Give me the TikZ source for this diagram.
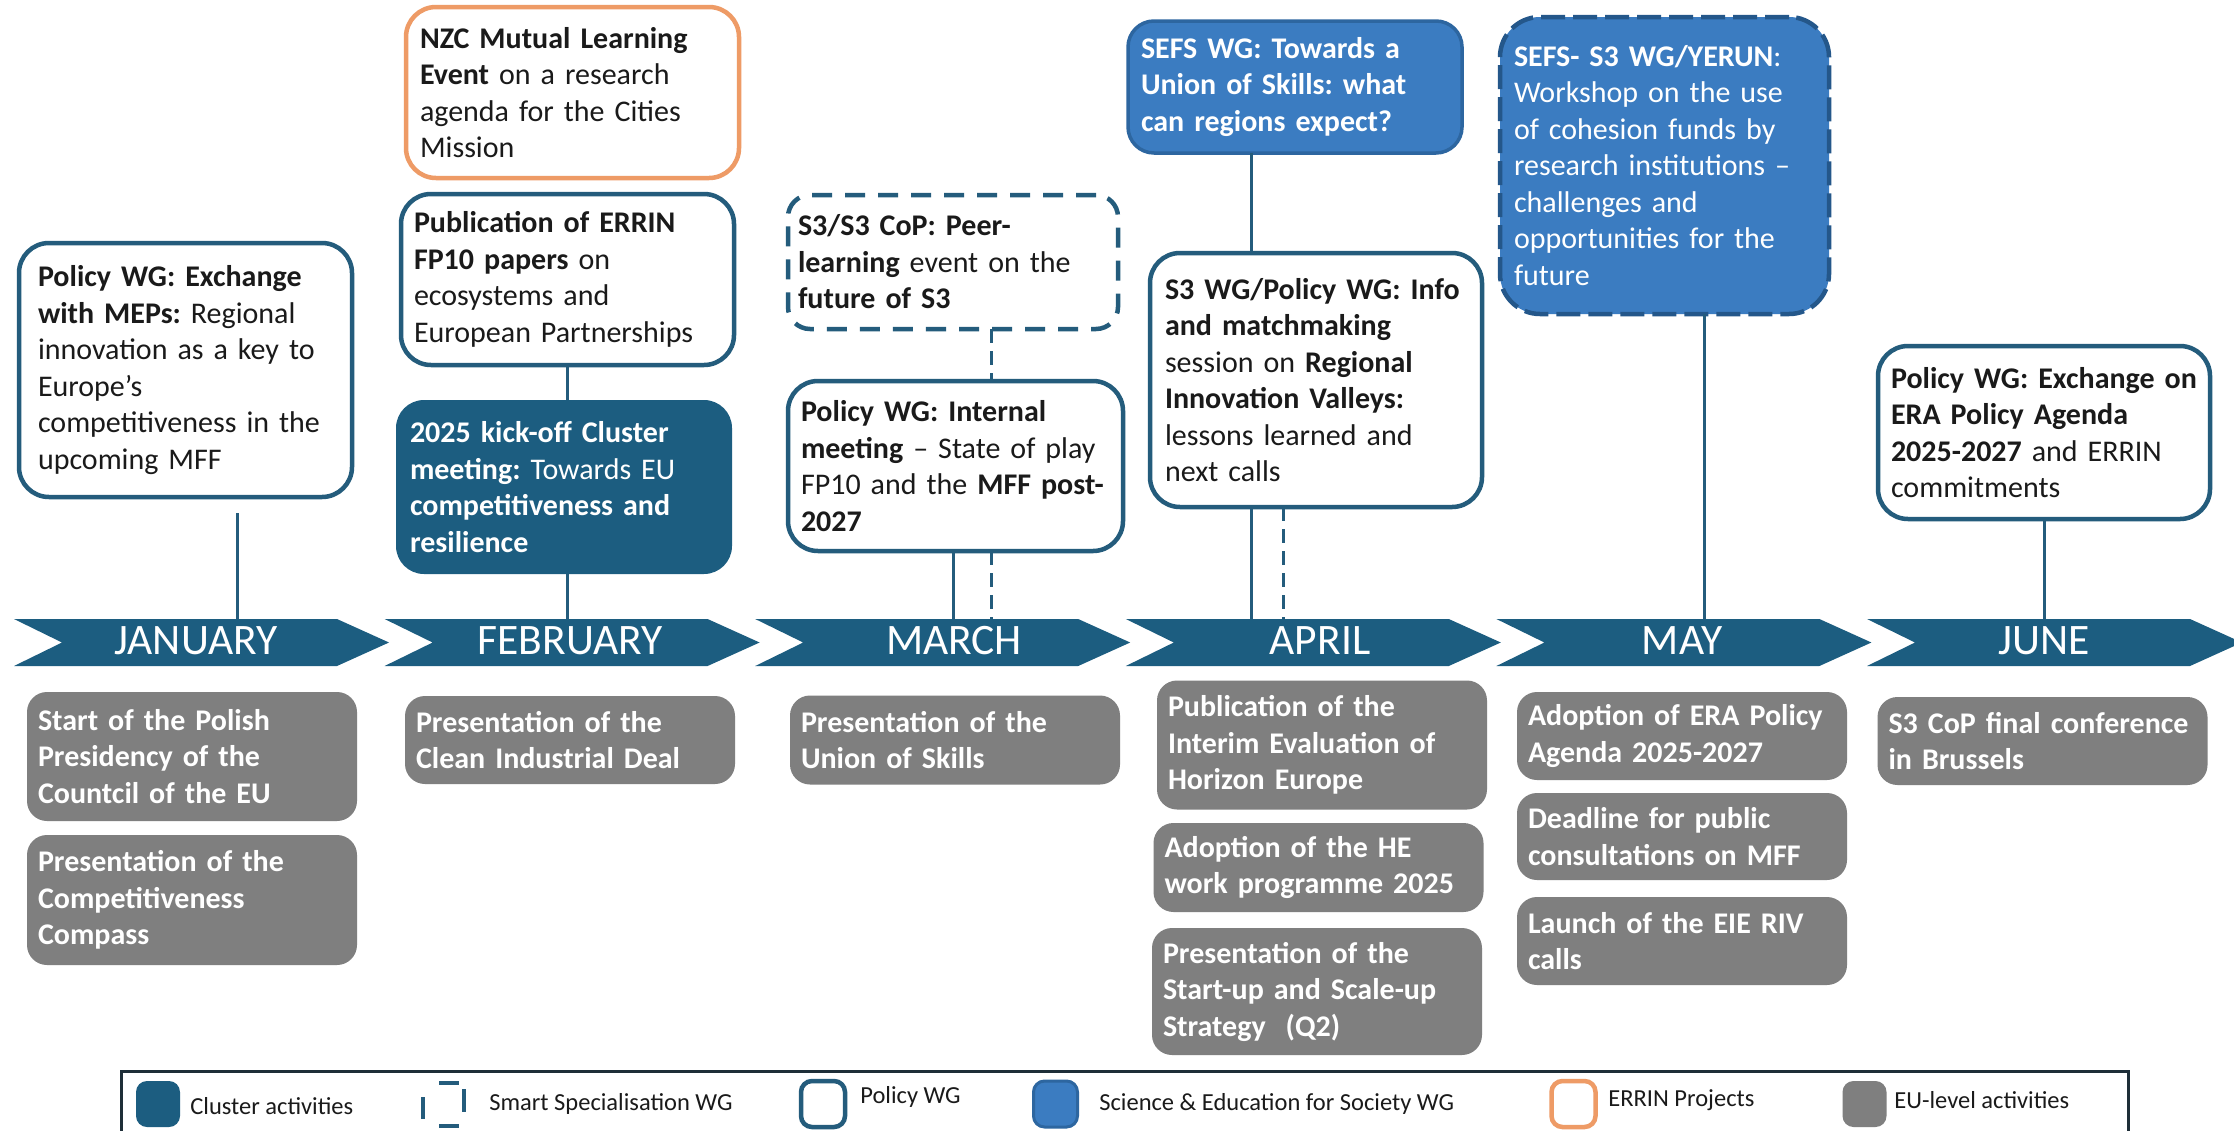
\documentclass[tikz,border=0pt]{standalone}
\usepackage{fontspec}
\setmainfont{Carlito}
\usetikzlibrary{calc}
\frenchspacing
\definecolor{dblue}{HTML}{1C5D80}
\definecolor{pborder}{HTML}{245C7C}
\definecolor{mblue}{HTML}{3B7CC1}
\definecolor{mborder}{HTML}{2D66A0}
\definecolor{ydash}{HTML}{24578A}
\definecolor{orng}{HTML}{EE9B66}
\definecolor{egrey}{HTML}{7F7F7F}
\definecolor{txt}{HTML}{1A1A1A}
\definecolor{legb}{HTML}{1E2E38}
\begin{document}
\begin{tikzpicture}[x=1pt,y=-1pt,
  every node/.style={inner ysep=0pt, outer sep=0pt},
  bodytext/.style={align=left, font=\fontsize{30}{36.5}\selectfont\frenchspacing},
  polbox/.style={bodytext, draw=pborder, fill=white, line width=4.5pt, rounded corners=30pt, text=txt},
  orbox/.style={bodytext, draw=orng, fill=white, line width=4.5pt, rounded corners=30pt, text=txt},
  s3box/.style={bodytext, draw=pborder, fill=white, line width=4.5pt, rounded corners=22pt, text=txt, dash pattern=on 20pt off 13pt},
  clbox/.style={bodytext, fill=dblue, rounded corners=28pt, text=white},
  sefsbox/.style={bodytext, draw=mborder, fill=mblue, line width=3.5pt, rounded corners=26pt, text=white},
  yerbox/.style={bodytext, draw=ydash, fill=mblue, line width=4.5pt, rounded corners=40pt, text=white, dash pattern=on 24pt off 8pt},
  eubox/.style={bodytext, fill=egrey, rounded corners=20pt, text=white, font=\fontsize{30}{36.5}\selectfont\bfseries\frenchspacing, inner xsep=11pt, text width=308pt},
  month/.style={text=white, font=\fontsize{43.5}{50}\selectfont},
  conn/.style={draw=pborder, line width=3pt},
  dconn/.style={draw=pborder, line width=3pt, dash pattern=on 14pt off 8pt},
  legtext/.style={anchor=west, text=txt, font=\fontsize{24.5}{28}\selectfont},
  legicon/.style={minimum width=44pt, minimum height=46pt, rounded corners=11pt}
]
\useasboundingbox (0,0) rectangle (2234,1130);
\clip (0,0) rectangle (2234,1130);
\fill[white] (0,0) rectangle (2234,1130);

% banner chevrons
\foreach \L in {14,384.6,755.2,1125.8,1496.4,1867}
  \fill[dblue] (\L,619) -- ++(323,0) -- ++(52,23.5) -- ++(-52,23.5) -- ++(-323,0) -- ++(48,-23.5) -- cycle;
\node[month] (mjan) at (196,641) {JANUARY};
\node[month] (mfeb) at (570,641) {FEBRUARY};
\node[month] (mmar) at (954,641) {MARCH};
\node[month] (mapr) at (1320,641) {APRIL};
\node[month] (mmay) at (1682,641) {MAY};
\node[month] (mjun) at (2044,641) {JUNE};

% connector end points on the banner
\coordinate (c1) at (237,619);
\coordinate (c2) at (567,619);
\coordinate (c3) at (953,619);
\coordinate (c4) at (991,619);
\coordinate (c5) at (1251,619);
\coordinate (c6) at (1283,619);
\coordinate (c7) at (1704,619);
\coordinate (c8) at (2044,619);

% top boxes
\node[polbox, minimum height=254pt, text width=295pt, inner xsep=19pt] (janpol) at (185.5,370)
 {\textbf{Policy WG: Exchange}\\\textbf{with MEPs:} Regional\\innovation as a key to\\Europe’s\\competitiveness in the\\upcoming MFF};
\node[orbox, minimum height=171pt, text width=305pt, inner xsep=14pt] (nzc) at (572.5,92.5)
 {\textbf{NZC Mutual Learning}\\\textbf{Event} on a research\\agenda for the Cities\\Mission};
\node[polbox, minimum height=171pt, text width=307pt, inner xsep=13pt] (pub) at (567.5,279.5)
 {\textbf{Publication of ERRIN}\\\textbf{FP10 papers} on\\ecosystems and\\European Partnerships};
\node[clbox, minimum height=174pt, text width=308pt, inner xsep=14pt] (cluster) at (564,487)
 {\textbf{2025 kick-off Cluster}\\\textbf{meeting:} Towards EU\\\textbf{competitiveness and}\\\textbf{resilience}};
\node[s3box, minimum height=134pt, text width=310pt, inner xsep=10pt] (s3cop) at (953,262)
 {\textbf{S3/S3 CoP: Peer-}\\\textbf{learning} event on the\\\textbf{future of S3}};
\node[polbox, minimum height=170pt, text width=309pt, inner xsep=13pt] (internal) at (955.5,466)
 {\textbf{Policy WG: Internal}\\\textbf{meeting} – State of play\\FP10 and the \textbf{MFF post-}\\\textbf{2027}};
\node[sefsbox, minimum height=132pt, text width=308pt, inner xsep=13pt] (sefs) at (1295,87)
 {\textbf{SEFS WG: Towards a}\\\textbf{Union of Skills: what}\\\textbf{can regions expect?}};
\node[polbox, minimum height=254pt, text width=302pt, inner xsep=15pt] (s3wg) at (1316,380)
 {\textbf{S3 WG/Policy WG: Info}\\\textbf{and matchmaking}\\session on \textbf{Regional}\\\textbf{Innovation Valleys:}\\lessons learned and\\next calls};
\node[yerbox, minimum height=297pt, text width=301pt, inner xsep=14pt] (yerun) at (1664.5,165.5)
 {\textbf{SEFS- S3 WG/YERUN}:\\Workshop on the use\\of cohesion funds by\\research institutions –\\challenges and\\opportunities for the\\future};
\node[polbox, minimum height=173pt, text width=306pt, inner xsep=13pt] (junepol) at (2044,432.5)
 {\mbox{\textbf{Policy WG: Exchange on}}\\\textbf{ERA Policy Agenda}\\\textbf{2025-2027} and ERRIN\\commitments};

% connectors
\draw[conn] ($(janpol.south -| c1)+(0,16)$) -- (c1);
\draw[conn] (pub.south -| c2) -- (cluster.north -| c2);
\draw[conn] (cluster.south -| c2) -- (c2);
\draw[dconn] (s3cop.south -| c4) -- (internal.north -| c4);
\draw[conn] (internal.south -| c3) -- (c3);
\draw[dconn] (internal.south -| c4) -- (c4);
\draw[conn] (sefs.south -| c5) -- (s3wg.north -| c5);
\draw[conn] (s3wg.south -| c5) -- (c5);
\draw[dconn] (s3wg.south -| c6) -- (c6);
\draw[conn] (yerun.south -| c7) -- (c7);
\draw[conn] (junepol.south -| c8) -- (c8);

% EU-level activities
\node[eubox, minimum height=129pt] (jan1) at (192,756.5) {Start of the Polish\\Presidency of the\\Countcil of the EU};
\node[eubox, minimum height=130pt] (jan2) at (192,900) {Presentation of the\\Competitiveness\\Compass};
\node[eubox, minimum height=88pt] (feb1) at (570,740) {Presentation of the\\Clean Industrial Deal};
\node[eubox, minimum height=89pt] (mar1) at (955,740) {Presentation of the\\Union of Skills};
\node[eubox, minimum height=129pt] (apr1) at (1322,745) {Publication of the\\Interim Evaluation of\\Horizon Europe};
\node[eubox, minimum height=89pt] (apr2) at (1318.5,867.5) {Adoption of the HE\\work programme 2025};
\node[eubox, minimum height=127pt] (apr3) at (1317,991.5) {Presentation of the\\Start-up and Scale-up\\Strategy~ (Q2)};
\node[eubox, minimum height=88pt] (may1) at (1682,736) {Adoption of ERA Policy\\Agenda 2025-2027};
\node[eubox, minimum height=87pt] (may2) at (1682,836.5) {Deadline for public\\consultations on MFF};
\node[eubox, minimum height=88pt] (may3) at (1682,941) {Launch of the EIE RIV\\calls};
\node[eubox, minimum height=88pt] (jun1) at (2042.5,741) {S3 CoP final conference\\in Brussels};

% legend
\draw[legb, line width=3pt] (121,1145) -- (121,1071) -- (2128,1071) -- (2128,1145);
\node[legicon, fill=dblue] (lg1) at (158,1104) {};
\node[legtext] (lt1) at (187,1106) {Cluster activities};
\draw[pborder, line width=4.5pt] (439,1083) -- (459,1083);
\draw[pborder, line width=4.5pt] (439,1126) -- (459,1126);
\draw[pborder, line width=4.5pt] (423,1097) -- (423,1119);
\draw[pborder, line width=4.5pt] (464,1089) -- (464,1112);
\node[legtext] (lt2) at (486,1104) {Smart Specialisation WG};
\node[legicon, draw=pborder, line width=4.5pt, fill=white] (lg3) at (823,1104) {};
\node[legtext] (lt3) at (857,1097) {Policy WG};
\node[legicon, draw=mborder, line width=3pt, fill=mblue] (lg4) at (1055.5,1104) {};
\node[legtext] (lt4) at (1096,1104) {Science \& Education for Society WG};
\node[legicon, draw=orng, line width=4.5pt, fill=white] (lg5) at (1573.5,1104) {};
\node[legtext] (lt5) at (1605,1100) {ERRIN Projects};
\node[legicon, fill=egrey] (lg6) at (1864.5,1104) {};
\node[legtext] (lt6) at (1891,1100) {EU-level activities};
\end{tikzpicture}
\end{document}
